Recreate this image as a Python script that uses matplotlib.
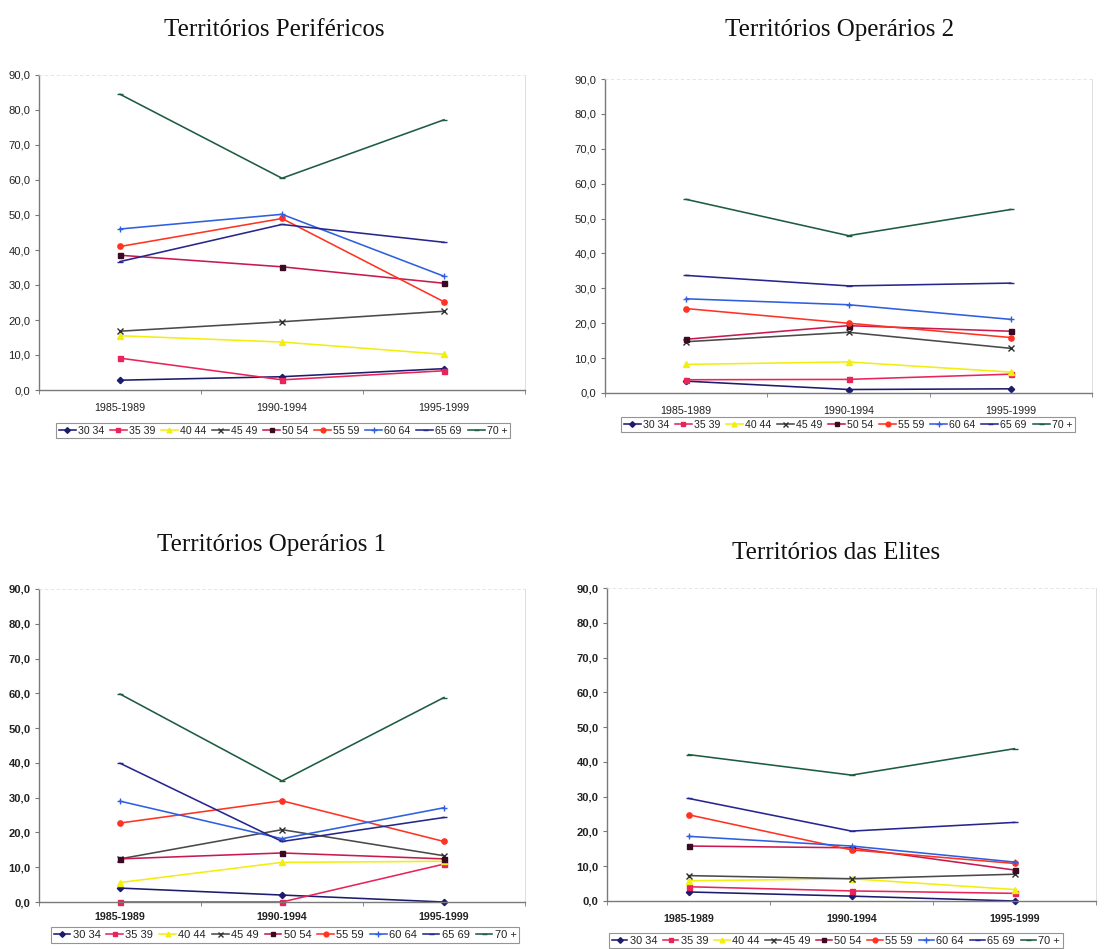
import matplotlib
matplotlib.use("Agg")
import matplotlib.pyplot as plt
from matplotlib.ticker import FixedLocator, FuncFormatter

# Periods on the category axis
periods = ["1985-1989", "1990-1994", "1995-1999"]

# Age groups (series) shown in every panel
age_groups = ["30 34", "35 39", "40 44", "45 49", "50 54", "55 59", "60 64", "65 69", "70 +"]

# Values per territory type, one list per age group (in age_groups order)
perifericos = [
    [2.8, 3.8, 6.1],
    [9.1, 2.9, 5.5],
    [15.5, 13.7, 10.2],
    [16.8, 19.5, 22.5],
    [38.5, 35.2, 30.5],
    [41.0, 49.0, 25.2],
    [46.0, 50.2, 32.5],
    [36.7, 47.3, 42.2],
    [84.5, 60.5, 77.2],
]

operarios2 = [
    [3.4, 1.0, 1.2],
    [3.8, 3.9, 5.4],
    [8.2, 8.9, 6.0],
    [14.7, 17.4, 12.8],
    [15.4, 19.3, 17.7],
    [24.2, 20.0, 15.9],
    [27.0, 25.3, 21.1],
    [33.7, 30.7, 31.5],
    [55.5, 45.1, 52.6],
]

operarios1 = [
    [4.0, 2.0, 0.0],
    [0.0, 0.0, 10.9],
    [5.6, 11.4, 11.7],
    [12.4, 20.8, 13.3],
    [12.4, 14.1, 12.4],
    [22.7, 29.1, 17.4],
    [29.0, 18.2, 27.1],
    [39.9, 17.4, 24.3],
    [59.8, 34.8, 58.8],
]

elites = [
    [2.6, 1.4, 0.0],
    [4.1, 2.9, 2.2],
    [5.8, 6.4, 3.3],
    [7.3, 6.4, 7.7],
    [15.8, 15.3, 8.9],
    [24.8, 14.7, 10.8],
    [18.6, 15.8, 11.2],
    [29.5, 20.1, 22.6],
    [42.1, 36.2, 43.8],
]

titles = ["Territórios Periféricos", "Territórios Operários 2",
          "Territórios Operários 1", "Territórios das Elites"]

# Line / marker styling for each age group
styles = [
    dict(color="#1c1c6e", marker="D", ms=3.2, mfc="#1c1c6e", mec="#1c1c6e"),
    dict(color="#e8245a", marker="s", ms=3.6, mfc="#e8245a", mec="#e8245a"),
    dict(color="#f2ee10", marker="^", ms=3.8, mfc="#f2ee10", mec="#f2ee10"),
    dict(color="#4a4a4a", marker="x", ms=4.0, mfc="#303030", mec="#303030", mew=1.0),
    dict(color="#c81a4e", marker="s", ms=3.6, mfc="#3a0a22", mec="#3a0a22"),
    dict(color="#ff3322", marker="o", ms=3.8, mfc="#ff3322", mec="#ff3322"),
    dict(color="#2f5fe0", marker="+", ms=5.0, mfc="#2f5fe0", mec="#2f5fe0", mew=1.0),
    dict(color="#26268f", marker="_", ms=4.0, mfc="#26268f", mec="#26268f"),
    dict(color="#1d5c40", marker="_", ms=4.0, mfc="#1d5c40", mec="#1d5c40"),
]

W, H = 1114, 949
fig = plt.figure(figsize=(W / 100, H / 100), dpi=100)
fig.patch.set_facecolor("white")

SANS = ["Liberation Sans", "DejaVu Sans"]
SERIF = ["Liberation Serif", "DejaVu Serif"]


def px_axes(x0, x1, y_top, y_bottom):
    return fig.add_axes([x0 / W, 1 - y_bottom / H, (x1 - x0) / W, (y_bottom - y_top) / H])


# (plot box in pixels, title centre, legend top-centre, data)
panels = [
    dict(box=(39, 525, 75, 390), title=(274, 30), legend=(283, 423), data=perifericos,
         bold=False, xpad=9.5, legsize=7.6, handlelen=1.6),
    dict(box=(605, 1092, 79, 393), title=(840, 30), legend=(848, 417), data=operarios2,
         bold=False, xpad=9.5, legsize=7.6, handlelen=1.6),
    dict(box=(39, 525, 589, 902), title=(272, 545), legend=(285, 927), data=operarios1,
         bold=True, xpad=7.5, legsize=8.0, handlelen=1.5),
    dict(box=(607, 1096, 588, 901), title=(836, 553), legend=(836, 933), data=elites,
         bold=True, xpad=9.0, legsize=7.9, handlelen=1.4),
]

xs = list(range(len(periods)))
for p, title in zip(panels, titles):
    ax = px_axes(*p["box"])
    handles = []
    for name, vals, st in zip(age_groups, p["data"], styles):
        (h,) = ax.plot(xs, vals, label=name, lw=1.15, clip_on=False, **st)
        handles.append(h)

    ax.set_xlim(-0.5, len(periods) - 0.5)
    ax.set_ylim(0, 90)
    ax.yaxis.set_major_locator(FixedLocator(range(0, 91, 10)))
    ax.yaxis.set_major_formatter(FuncFormatter(lambda v, pos: f"{v:.1f}".replace(".", ",")))
    ax.set_xticks(xs)
    ax.set_xticklabels(periods)
    ax.xaxis.set_minor_locator(FixedLocator([-0.5, 0.5, 1.5, 2.5]))
    ax.tick_params(axis="x", which="major", length=0, pad=p["xpad"], labelsize=7.7,
                   labelcolor="#222222")
    ax.tick_params(axis="x", which="minor", length=3, direction="out", color="#777777")
    ax.tick_params(axis="y", which="major", length=3, direction="out", color="#777777",
                   labelsize=8.1, pad=3, labelcolor="#222222")
    fw = "bold" if p["bold"] else "normal"
    for lab in ax.get_xticklabels() + ax.get_yticklabels():
        lab.set_family(SANS)
        lab.set_fontweight(fw)

    for side in ("left", "bottom"):
        ax.spines[side].set_color("#7a7a7a")
        ax.spines[side].set_linewidth(1.0)
    ax.spines["right"].set_color("#d8d8d8")
    ax.spines["right"].set_linewidth(0.6)
    ax.spines["top"].set_color("#e0e0e0")
    ax.spines["top"].set_linewidth(0.6)
    ax.spines["top"].set_linestyle((0, (3, 4)))

    tx, ty = p["title"]
    fig.text(tx / W, 1 - ty / H, title, ha="center", va="center",
             fontsize=18, family=SERIF, color="#111111")

    lx, ly = p["legend"]
    leg = fig.legend(handles, age_groups, loc="upper center",
                     bbox_to_anchor=(lx / W, 1 - ly / H), ncol=len(age_groups),
                     prop=dict(family=SANS, size=p["legsize"]), frameon=True, fancybox=False,
                     handlelength=p["handlelen"], handletextpad=0.2, columnspacing=0.55,
                     borderpad=0.25, borderaxespad=0.0, markerscale=0.9)
    leg.get_frame().set_edgecolor("#7a7a7a")
    leg.get_frame().set_linewidth(0.8)
    for t in leg.get_texts():
        t.set_color("#222222")

fig.savefig("out.png", dpi=100, facecolor="white")
